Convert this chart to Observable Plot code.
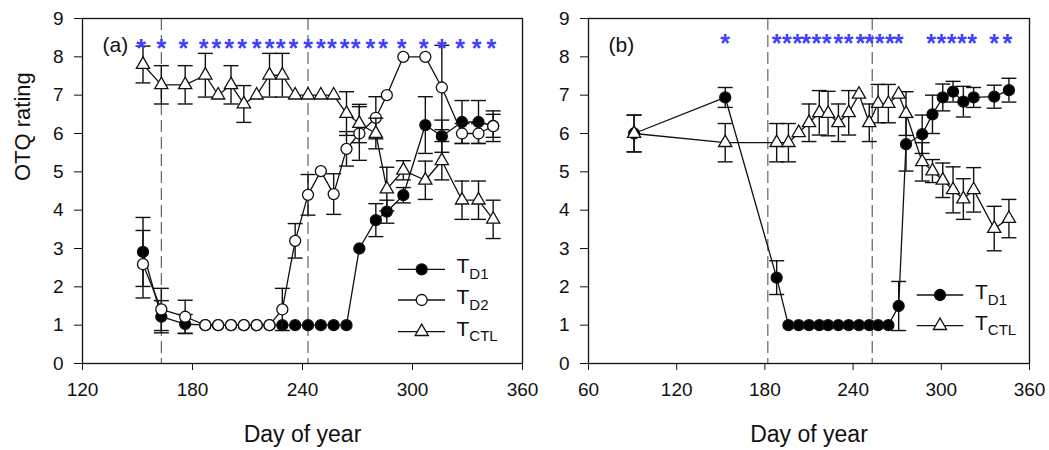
<!DOCTYPE html>
<html><head><meta charset="utf-8">
<script src="https://cdn.jsdelivr.net/npm/d3@7"></script>
<script src="https://cdn.jsdelivr.net/npm/@observablehq/plot@0.6"></script>
<style>
body{margin:0;background:#fff;}
#wrap{position:relative;width:1049px;height:450px;font-family:"Liberation Sans",Arial,sans-serif;}
#wrap > svg{position:absolute;top:0;overflow:visible;}
</style></head><body><div id="wrap"></div>
<script>
// ---------- Panel (a) ----------
const daysA = [153,163,176,187,194,201,208,215,222,229,236,243,250,257,264,271,280,286,295,307,316,327,336,344];
const td1A  = [2.91,1.22,1.03,1,1,1,1,1,1,1,1,1,1,1,1,3.0,3.74,3.96,4.39,6.22,5.93,6.3,6.3,6.2];
const td1AErr = [0.9,0.42,0.25,0,0,0,0,0,0,0,0,0,0,0,0,0,0.43,0.3,0.2,0.74,0.42,0.56,0.56,0.3];
const td2A  = [2.59,1.41,1.22,1,1,1,1,1,1,1.41,3.2,4.4,5.02,4.42,5.6,6.0,6.41,7.0,8.0,8.0,7.2,6.0,6.0,6.19];
const td2AErr = [0.88,0.55,0.43,0,0,0,0,0,0,0.55,0.45,0.53,0,0.53,0.45,0.7,0.55,0,0,0,1.1,0.26,0.26,0.4];
const ctlA  = [7.8,7.27,7.27,7.52,7.0,7.27,6.77,7.0,7.52,7.52,7.0,7.0,7.0,7.0,6.52,6.26,6.0,4.55,5.04,4.78,5.29,4.26,4.26,3.76];
const ctlAErr = [0.48,0.5,0.5,0.57,0,0.5,0.48,0,0.57,0.57,0,0,0,0,0.57,0.5,0.4,0.57,0.25,0.5,0.5,0.5,0.5,0.5];
const starsA = [152,163,175,186,193,200,207,215,222,228,235,243,250,256,263,269,277,284,294,306,316,326,335,343];
const starLevelA = 8.4;
const dashA = [163,243];
const ticksA = [120,180,240,300,360];

// ---------- Panel (b) ----------
const daysB = [91,153,188,196,203,210,217,223,230,237,244,251,257,264,271,276,287,294,301,308,315,322,336,346];
const td1B  = [6.0,6.94,2.24,1,1,1,1,1,1,1,1,1,1,1,1.5,5.72,5.98,6.5,6.94,7.09,6.83,6.94,6.96,7.13];
const td1BErr = [0.48,0.26,0.44,0,0,0,0,0,0,0,0,0,0,0,0.64,0.7,0.5,0.5,0.35,0.27,0.4,0.26,0.3,0.31];
const ctlB  = [6.0,5.76,5.76,5.76,6.02,6.28,6.54,6.52,6.28,6.54,7.02,6.28,6.78,6.78,7.02,6.52,5.26,5.02,4.78,4.53,4.29,4.53,3.52,3.78];
const ctlBErr = [0.48,0.5,0.5,0.5,0,0.49,0.58,0.58,0.49,0.58,0,0.49,0.5,0.5,0,0.57,0.5,0.3,0.45,0.6,0.53,0.58,0.58,0.5];
const starsB = [153,188,195,202,208,215,222,230,237,245,251,258,265,271,293,300,307,314,321,336,345];
const starLevelB = 8.52;
const dashB = [182,253];
const ticksB = [60,120,180,240,300,360];

const yTicks = [0,1,2,3,4,5,6,7,8,9];
const FONT = "Liberation Sans, Arial, sans-serif";
const INK = "#111";

const capSymbol = {
  draw(ctx, size) { const r = Math.sqrt(size / Math.PI); ctx.moveTo(-r, 0); ctx.lineTo(r, 0); }
};

function rows(days, vals, errs) {
  return days.map((d, i) => ({day: d, v: vals[i], err: errs[i], lo: vals[i] - errs[i], hi: vals[i] + errs[i]}));
}

function seriesMarks(data, sym) {
  const withErr = data.filter(d => d.err > 0);
  return [
    Plot.line(data, {x: "day", y: "v", stroke: INK, strokeWidth: 1.3}),
    Plot.ruleX(withErr, {x: "day", y1: "lo", y2: "hi", stroke: INK, strokeWidth: 1.4}),
    Plot.dot(withErr, {x: "day", y: "lo", symbol: capSymbol, r: 7.5, fill: "none", stroke: INK, strokeWidth: 1.4}),
    Plot.dot(withErr, {x: "day", y: "hi", symbol: capSymbol, r: 7.5, fill: "none", stroke: INK, strokeWidth: 1.4}),
    Plot.dot(data, {x: "day", y: "v", symbol: sym.symbol, r: sym.r, fill: sym.fill, stroke: INK, strokeWidth: 1.3})
  ];
}

const SYM = {
  td1: {symbol: "circle", r: 5.5, fill: "#000"},
  td2: {symbol: "circle", r: 5.5, fill: "#fff"},
  ctl: {symbol: "triangle", r: 4.9, fill: "#fff"}
};

function makePanel({width, marginLeft, marginRight, xDomain, xTicks, dashes, series, stars, starLevel, label, yTitle}) {
  const marks = [
    Plot.ruleX(dashes, {stroke: "#555", strokeWidth: 1.1, strokeDasharray: "12,5"}),
    Plot.frame({stroke: INK, strokeWidth: 1.3}),
    Plot.axisX({ticks: xTicks, tickSize: 7, tickPadding: 12, label: null, fontSize: 19, tickFormat: d => String(d)}),
    Plot.axisY({ticks: yTicks, tickSize: 8, tickPadding: 11, label: null, fontSize: 19}),
  ];
  for (const s of series) marks.push(...seriesMarks(s.data, s.sym));
  marks.push(
    Plot.text(stars, {x: d => d, y: () => starLevel, text: () => "*", fill: "#3f3fff", fontSize: 25, fontWeight: "bold", dy: 7}),
    Plot.text([label], {frameAnchor: "top-left", dx: 20, dy: 19, fontSize: 21, textAnchor: "start", fill: INK}),
    Plot.text(["Day of year"], {frameAnchor: "bottom", dy: 78, fontSize: 23, fill: INK})
  );
  if (yTitle) marks.push(Plot.text([yTitle], {frameAnchor: "left", rotate: -90, dx: -60, dy: -10, fontSize: 22, fill: INK}));
  return Plot.plot({
    width, height: 450,
    marginLeft, marginRight, marginTop: 18, marginBottom: 87,
    x: {domain: xDomain},
    y: {domain: [0, 9]},
    style: {fontFamily: FONT, fontSize: "19px", background: "transparent", color: INK, overflow: "visible"},
    marks
  });
}

function addLegend(svg, entries, x0, x1, xm, xt) {
  const g = d3.select(svg).append("g").attr("font-family", FONT).attr("fill", INK).attr("text-anchor", "start");
  entries.forEach(e => {
    g.append("line").attr("x1", x0).attr("x2", x1).attr("y1", e.y).attr("y2", e.y)
      .attr("stroke", INK).attr("stroke-width", 1.3);
    const type = e.sym.symbol === "triangle" ? d3.symbolTriangle : d3.symbolCircle;
    g.append("path").attr("d", d3.symbol(type, Math.PI * e.sym.r * e.sym.r)())
      .attr("transform", `translate(${xm},${e.y})`)
      .attr("fill", e.sym.fill).attr("stroke", INK).attr("stroke-width", 1.3);
    const t = g.append("text").attr("x", xt).attr("y", e.y + 4).attr("font-size", 21).attr("text-anchor", "start").text("T");
    t.append("tspan").attr("font-size", 15).attr("dy", 5.7).text(e.sub);
  });
}

const wrap = document.getElementById("wrap");

const plotA = makePanel({
  width: 540, marginLeft: 82, marginRight: 18, xDomain: [120, 360], xTicks: ticksA, dashes: dashA,
  series: [
    {data: rows(daysA, td1A, td1AErr), sym: SYM.td1},
    {data: rows(daysA, td2A, td2AErr), sym: SYM.td2},
    {data: rows(daysA, ctlA, ctlAErr), sym: SYM.ctl}
  ],
  stars: starsA, starLevel: starLevelA, label: "(a)", yTitle: "OTQ rating"
});
plotA.style.left = "0px";
addLegend(plotA, [
  {y: 269.3, sym: SYM.td1, sub: "D1"},
  {y: 300, sym: SYM.td2, sub: "D2"},
  {y: 331.7, sym: SYM.ctl, sub: "CTL"}
], 398, 445, 421.7, 456.5);
wrap.appendChild(plotA);

const plotB = makePanel({
  width: 509, marginLeft: 48, marginRight: 20, xDomain: [60, 360], xTicks: ticksB, dashes: dashB,
  series: [
    {data: rows(daysB, td1B, td1BErr), sym: SYM.td1},
    {data: rows(daysB, ctlB, ctlBErr), sym: SYM.ctl}
  ],
  stars: starsB, starLevel: starLevelB, label: "(b)", yTitle: null
});
plotB.style.left = "540px";
addLegend(plotB, [
  {y: 295, sym: SYM.td1, sub: "D1"},
  {y: 325.7, sym: SYM.ctl, sub: "CTL"}
], 376.7, 423.3, 400, 435);
wrap.appendChild(plotB);
</script>
</body></html>
